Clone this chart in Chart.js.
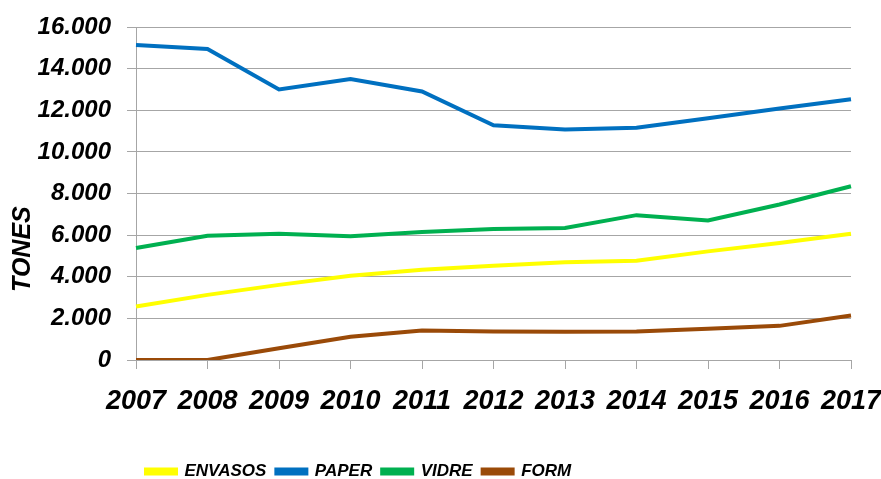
<!DOCTYPE html>
<html>
<head>
<meta charset="utf-8">
<script src="https://cdn.jsdelivr.net/npm/chart.js"></script>
<style>
  html, body { margin: 0; padding: 0; background: #fff; height: 479px; overflow: hidden; }
  #wrap { position: relative; width: 881px; height: 490px; }
</style>
</head>
<body>
<div id="wrap"><canvas id="chart"></canvas></div>
<script>
// --- DATA ---
const years = ['2007', '2008', '2009', '2010', '2011', '2012', '2013', '2014', '2015', '2016', '2017'];
const envasos = [2570, 3130, 3610, 4050, 4340, 4530, 4700, 4770, 5220, 5620, 6070];
const paper   = [15130, 14940, 13000, 13500, 12900, 11280, 11080, 11160, 11620, 12080, 12530];
const vidre   = [5380, 5970, 6070, 5950, 6150, 6300, 6340, 6960, 6700, 7470, 8350];
const form    = [0, 0, 560, 1120, 1420, 1370, 1360, 1370, 1500, 1640, 2140];

const seriesNames = ['ENVASOS', 'PAPER', 'VIDRE', 'FORM'];
const seriesColors = ['#ffff00', '#0070c0', '#00b050', '#9a4a08'];
const seriesValues = [envasos, paper, vidre, form];

const yMin = 0, yMax = 16000, yStep = 2000;
const yTitle = 'TONES';

const FONT = "'Liberation Sans', Arial, sans-serif";
const GRID = '#a6a6a6';

// punt de milers: 16000 -> 16.000
function fmt(v) {
    return String(v).replace(/\B(?=(\d{3})+(?!\d))/g, '.');
}

const datasets = seriesNames.map((name, i) => ({
    label: name,
    data: seriesValues[i],
    borderColor: seriesColors[i],
    backgroundColor: seriesColors[i],
    borderWidth: 4,
    pointRadius: 0,
    tension: 0,
    fill: false
}));

new Chart(document.getElementById('chart'), {
    type: 'line',
    data: { labels: years, datasets: datasets },
    options: {
        responsive: true,
        maintainAspectRatio: false,
        animation: false,
        layout: { padding: { top: 27, right: 30, left: 0, bottom: 0 } },
        scales: {
            x: {
                offset: false,
                afterFit: scale => {
                    scale.height = 93;
                    scale.paddingLeft = 0;
                    scale.paddingRight = 0;
                },
                grid: { drawOnChartArea: false, drawTicks: true, tickLength: 9, color: GRID },
                border: { color: GRID },
                ticks: {
                    color: '#000',
                    padding: 16,
                    autoSkip: false,
                    maxRotation: 0,
                    font: { family: FONT, size: 27, style: 'italic', weight: 'bold' }
                }
            },
            y: {
                min: yMin,
                max: yMax,
                afterFit: scale => {
                    scale.width = 136;
                    scale.paddingTop = 0;
                    scale.paddingBottom = 0;
                },
                grid: { color: GRID, tickLength: 9 },
                border: { color: GRID },
                ticks: {
                    stepSize: yStep,
                    color: '#000',
                    padding: 16,
                    callback: v => fmt(v),
                    font: { family: FONT, size: 24, style: 'italic', weight: 'bold' }
                },
                title: {
                    display: true,
                    text: yTitle + '                ',
                    color: '#000',
                    padding: { top: 8, bottom: 0 },
                    font: { family: FONT, size: 25, style: 'italic', weight: 'bold' }
                }
            }
        },
        plugins: {
            legend: {
                position: 'bottom',
                fullSize: false,
                align: 'start',
                labels: {
                    boxWidth: 30,
                    boxHeight: 4,
                    padding: 10,
                    color: '#000',
                    font: { family: FONT, size: 17, style: 'italic', weight: 'bold' }
                }
            },
            tooltip: { enabled: false }
        }
    }
});
</script>
</body>
</html>
